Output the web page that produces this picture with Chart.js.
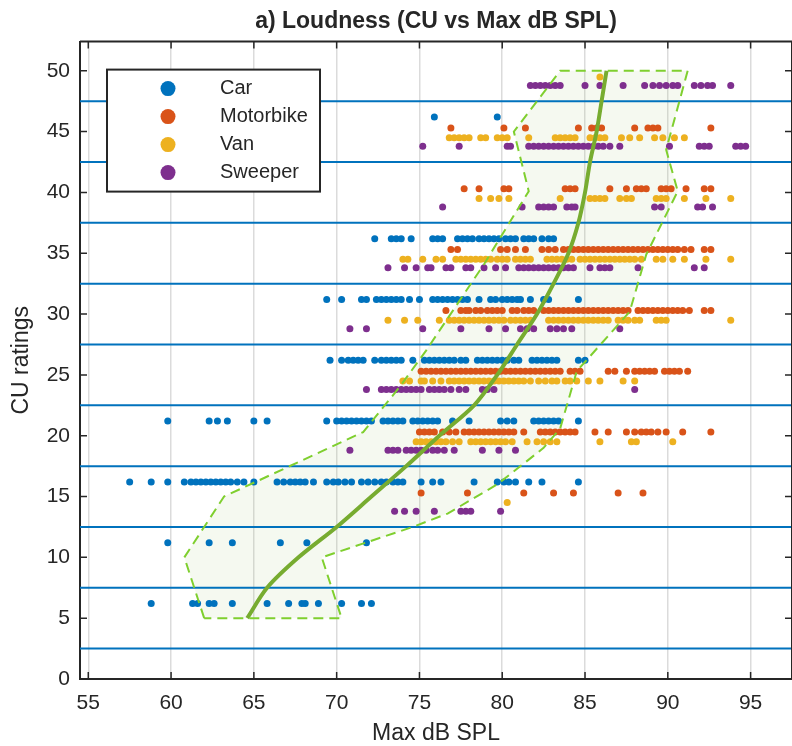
<!DOCTYPE html>
<html>
<head>
<meta charset="utf-8">
<title>Loudness (CU vs Max dB SPL)</title>
<script src="https://cdn.jsdelivr.net/npm/chart.js@4.4.1/dist/chart.umd.min.js"></script>
<style>
  html, body { margin: 0; padding: 0; background: #fff; overflow: hidden; }
  canvas { display: block; }
</style>
</head>
<body>
<canvas id="loudness" width="800" height="746"></canvas>
<script>
const categories = ["Car", "Motorbike", "Van", "Sweeper"];
const colors = ["#0072BD", "#D95319", "#EDB120", "#7E2F8E"];

const xTicks = [55, 60, 65, 70, 75, 80, 85, 90, 95];
const yTicks = [0, 5, 10, 15, 20, 25, 30, 35, 40, 45, 50];
const ratingEdges = [2.5, 7.5, 12.5, 17.5, 22.5, 27.5, 32.5, 37.5, 42.5, 47.5];

// each row: one CU rating level, with the Max dB SPL of every rating on it
const carLevels = [6.2, 11.2, 16.2, 21.2, 26.2, 31.2, 36.2, 46.2];
const carSpl = [
  [58.8, 61.3, 61.6, 62.3, 62.6, 63.7, 65.8, 67.1, 67.9, 68.1, 68.9, 70.3, 71.5, 72.1],
  [59.8, 62.3, 63.7, 66.6, 68.2, 71.8],
  [57.5, 58.8, 59.8, 60.8, 61.2, 61.5, 61.8, 62.1, 62.4, 62.7, 63.0, 63.3, 63.6, 64.0, 64.4, 65.0, 66.4, 66.8, 67.2, 67.5, 67.8, 68.1, 68.6, 69.4, 69.8, 70.1, 70.5, 70.9, 71.5, 71.9, 72.3, 72.7, 73.0, 73.4, 73.7, 74.0, 75.1, 75.8, 76.3, 78.3, 79.7, 80.1, 80.4, 80.8, 81.6, 82.4, 84.6],
  [59.8, 62.3, 62.8, 63.4, 65.0, 65.8, 69.4, 70.0, 70.3, 70.6, 70.9, 71.2, 71.5, 71.8, 72.1, 72.8, 73.1, 73.4, 73.7, 74.0, 74.6, 74.9, 75.2, 75.5, 75.8, 76.1, 77.0, 78.0, 79.9, 80.3, 80.7, 81.9, 82.2, 82.5, 82.8, 83.1, 83.4, 84.6],
  [69.6, 70.3, 70.7, 71.0, 71.3, 71.6, 72.3, 72.7, 73.0, 73.3, 73.6, 73.9, 74.6, 75.3, 75.6, 75.9, 76.2, 76.5, 76.8, 77.1, 77.5, 77.8, 78.5, 78.8, 79.1, 79.4, 79.7, 80.0, 80.3, 80.7, 81.0, 81.8, 82.1, 82.4, 82.7, 83.0, 83.3, 84.6, 85.0],
  [69.4, 70.3, 71.5, 71.8, 72.4, 72.7, 73.0, 73.3, 73.6, 73.9, 74.4, 75.0, 75.8, 76.1, 76.4, 76.7, 77.0, 77.3, 77.6, 77.9, 78.6, 79.3, 79.6, 80.0, 80.3, 80.6, 80.9, 81.1, 81.7, 82.5, 82.8, 84.6],
  [72.3, 73.3, 73.6, 73.9, 74.5, 75.8, 76.1, 76.4, 77.3, 77.6, 77.9, 78.2, 78.6, 78.9, 79.2, 79.5, 79.8, 80.2, 80.5, 80.8, 81.3, 81.6, 81.9, 82.4, 82.8, 83.1],
  [75.9, 79.7]
];

const motoLevels = [15.3, 20.3, 25.3, 30.3, 35.3, 40.3, 45.3];
const motoSpl = [
  [75.1, 77.9, 81.3, 83.1, 84.3, 87.0, 88.5],
  [75.0, 75.3, 75.6, 75.9, 76.4, 76.8, 77.2, 77.7, 78.0, 78.3, 78.6, 78.9, 79.2, 79.5, 79.8, 80.1, 80.4, 80.7, 81.3, 82.3, 82.6, 82.9, 83.2, 83.5, 83.8, 84.1, 84.4, 85.6, 86.4, 87.5, 88.0, 88.4, 88.7, 89.0, 89.4, 89.9, 90.9, 92.6],
  [75.1, 75.4, 75.7, 76.0, 76.3, 76.6, 76.9, 77.2, 77.5, 77.8, 78.1, 78.4, 78.7, 79.0, 79.3, 79.6, 79.9, 80.2, 80.5, 80.8, 81.1, 81.4, 81.7, 82.0, 82.3, 82.6, 82.9, 83.2, 83.5, 84.1, 84.4, 84.7, 86.4, 86.8, 87.5, 88.0, 88.3, 88.6, 88.9, 89.2, 89.8, 90.1, 90.4, 90.7, 91.2],
  [76.6, 77.5, 77.8, 78.0, 78.4, 78.7, 79.1, 79.4, 79.7, 80.0, 80.6, 80.9, 81.3, 81.6, 81.9, 82.5, 82.8, 83.1, 83.4, 83.7, 84.0, 84.3, 84.6, 84.9, 85.2, 85.5, 85.8, 86.1, 86.4, 86.7, 87.0, 87.3, 87.6, 88.2, 88.5, 88.8, 89.1, 89.4, 89.7, 90.0, 90.3, 90.6, 90.9, 91.3, 92.2, 92.6],
  [76.9, 77.3, 79.9, 80.3, 80.8, 81.4, 82.4, 82.8, 83.2, 83.7, 84.0, 84.3, 84.6, 84.9, 85.2, 85.5, 85.8, 86.1, 86.4, 86.7, 87.0, 87.3, 87.6, 87.9, 88.2, 88.5, 88.8, 89.1, 89.4, 89.7, 90.0, 90.3, 90.6, 91.0, 91.4, 92.2, 92.6],
  [77.7, 78.6, 80.1, 80.4, 83.8, 84.1, 84.4, 86.5, 87.5, 88.1, 88.4, 88.7, 89.6, 89.9, 90.2, 91.1, 92.2, 92.6],
  [76.9, 80.1, 81.4, 84.6, 85.4, 85.7, 86.0, 88.0, 88.8, 89.1, 89.4, 92.6]
];

const vanLevels = [14.5, 19.5, 24.5, 29.5, 34.5, 39.5, 44.5, 49.5];
const vanSpl = [
  [80.3],
  [74.8, 75.1, 75.4, 75.7, 76.0, 76.3, 76.6, 77.0, 77.4, 78.1, 78.4, 78.7, 79.0, 79.3, 79.6, 79.9, 80.2, 80.6, 81.5, 82.1, 82.5, 82.9, 83.3, 85.9, 87.8, 88.1, 90.3],
  [74.0, 74.4, 75.1, 75.3, 75.8, 76.3, 76.8, 77.1, 77.4, 77.7, 78.0, 78.3, 78.6, 78.9, 79.2, 79.5, 79.8, 80.1, 80.4, 80.7, 81.0, 81.3, 81.7, 82.2, 82.6, 83.0, 83.3, 83.8, 84.1, 84.5, 85.2, 85.9, 87.3, 88.0],
  [73.1, 74.1, 74.9, 76.2, 76.8, 77.1, 77.4, 77.7, 78.0, 78.3, 78.6, 78.9, 79.2, 79.5, 79.8, 80.1, 80.5, 80.8, 81.1, 81.4, 81.7, 82.8, 83.1, 83.4, 83.7, 84.0, 84.3, 84.6, 84.9, 85.2, 85.5, 85.8, 86.1, 86.4, 87.0, 87.3, 87.6, 88.0, 88.3, 89.3, 89.6, 89.9, 93.8],
  [74.0, 74.3, 75.2, 76.0, 76.4, 77.2, 77.5, 77.8, 78.1, 78.4, 78.7, 79.0, 79.3, 79.7, 80.0, 80.3, 80.8, 81.1, 81.4, 81.7, 82.7, 83.0, 83.3, 83.6, 83.9, 84.2, 84.7, 85.0, 85.3, 85.6, 85.9, 86.2, 86.5, 86.8, 87.1, 87.4, 87.7, 88.0, 88.4, 89.3, 89.7, 90.3, 91.0, 92.3, 93.8],
  [78.6, 79.3, 79.8, 80.4, 83.5, 85.3, 85.6, 85.9, 86.2, 87.1, 87.5, 87.8, 89.3, 89.6, 89.9, 91.0, 92.3, 93.8],
  [76.8, 77.1, 77.4, 77.7, 78.0, 78.7, 79.0, 79.7, 80.0, 80.3, 81.6, 83.2, 83.5, 83.8, 84.1, 84.4, 85.3, 85.6, 85.9, 86.2, 87.2, 87.7, 88.3, 89.2, 89.7, 90.4, 91.0],
  [85.9]
];

const sweepLevels = [13.8, 18.8, 23.8, 28.8, 33.8, 38.8, 43.8, 48.8];
const sweepSpl = [
  [73.5, 74.1, 74.8, 75.9, 77.5, 77.8, 78.1, 79.9],
  [70.8, 73.1, 73.4, 73.7, 74.2, 74.5, 74.8, 75.1, 75.4, 75.8, 76.1, 76.5, 77.1, 78.8, 79.8, 80.8],
  [71.8, 72.7, 73.0, 73.3, 73.6, 73.9, 74.2, 74.5, 74.8, 75.1, 75.6, 75.9, 76.2, 76.5, 76.9, 77.4, 77.8, 78.8, 79.1, 79.5, 88.0],
  [70.8, 71.8, 75.2, 77.5, 79.2, 80.2, 81.1, 81.5, 81.9, 82.9, 83.3, 83.7, 84.2, 87.1],
  [73.1, 74.1, 74.8, 75.5, 75.7, 76.6, 76.9, 77.8, 78.1, 78.9, 79.6, 80.2, 81.0, 81.3, 81.6, 81.9, 82.2, 82.5, 82.8, 83.1, 83.4, 83.7, 84.0, 84.3, 85.3, 85.9, 86.2, 86.5, 88.2, 91.6, 92.2],
  [76.4, 81.2, 82.2, 82.5, 82.8, 83.1, 83.9, 84.2, 84.4, 89.2, 89.6, 91.8, 92.1, 92.7],
  [75.2, 77.4, 80.3, 80.5, 81.6, 81.9, 82.2, 82.5, 82.8, 83.1, 83.4, 83.7, 84.0, 84.3, 84.6, 84.9, 85.2, 85.5, 85.8, 86.1, 86.5, 87.1, 90.1, 91.9, 92.2, 92.5, 94.1, 94.4, 94.7],
  [81.7, 82.0, 82.3, 82.6, 82.9, 83.2, 83.5, 85.0, 85.9, 87.3, 88.6, 89.1, 89.5, 89.9, 90.3, 90.6, 91.6, 92.0, 92.4, 92.7, 93.8]
];

// fitted loudness curve
const fitCu = [5, 7.5, 10, 12.5, 15, 17.5, 20, 22.5, 25, 27.5, 30, 32.5, 35, 37.5, 40, 42.5, 45, 47.5, 50];
const fitSpl = [64.6, 65.8, 67.7, 70.0, 72.1, 74.2, 76.2, 78.3, 79.7, 80.9, 82.1, 83.1, 84.0, 84.6, 85.0, 85.3, 85.7, 86.0, 86.3];

// outline of the spread around the fit (closed)
const bandSpl = [62.0, 60.8, 63.2, 71.6, 73.8, 75.4, 78.9, 81.6, 80.7, 83.5, 91.2, 89.9, 90.6, 88.7, 87.7, 84.5, 83.5, 82.5, 79.7, 76.7, 74.6, 69.1, 70.3, 62.0];
const bandCu = [5.0, 10.0, 15.0, 20.3, 24.0, 27.0, 34.1, 40.1, 45.0, 50.0, 50.0, 43.5, 40.1, 34.9, 30.2, 25.3, 20.6, 19.0, 16.0, 13.6, 12.5, 10.0, 5.0, 5.0];

const font = "'Liberation Sans', Arial, Helvetica, sans-serif";
const ink = "#262626";

function toPoints(levels, spl) {
  return levels.flatMap((cu, i) => spl[i].map(x => ({ x, y: cu })));
}

const groups = [
  toPoints(carLevels, carSpl),
  toPoints(motoLevels, motoSpl),
  toPoints(vanLevels, vanSpl),
  toPoints(sweepLevels, sweepSpl)
];

const scatterSets = categories.map((name, i) => ({
  label: name,
  data: groups[i],
  backgroundColor: colors[i],
  borderWidth: 0,
  pointRadius: 3.5,
  order: 2
}));

// horizontal category boundaries
const ratingLines = {
  id: "ratingLines",
  beforeDatasetsDraw(chart) {
    const { ctx, chartArea: a, scales: { y } } = chart;
    ctx.save();
    ctx.strokeStyle = "#0072BD";
    ctx.lineWidth = 2;
    ratingEdges.forEach(v => {
      const py = y.getPixelForValue(v);
      ctx.beginPath();
      ctx.moveTo(a.left, py);
      ctx.lineTo(a.right, py);
      ctx.stroke();
    });
    ctx.restore();
  }
};

// dashed outline of the band, stroked over the points
const bandOutline = {
  id: "bandOutline",
  afterDatasetsDraw(chart) {
    const { ctx, scales: { x, y } } = chart;
    ctx.save();
    ctx.strokeStyle = "#7fcf2f";
    ctx.lineWidth = 2;
    ctx.setLineDash([10, 6]);
    ctx.beginPath();
    bandSpl.forEach((v, i) => {
      const px = x.getPixelForValue(v), py = y.getPixelForValue(bandCu[i]);
      if (i === 0) ctx.moveTo(px, py); else ctx.lineTo(px, py);
    });
    ctx.stroke();
    ctx.restore();
  }
};

// box outline and inward tick marks
const axisFrame = {
  id: "axisFrame",
  afterDatasetsDraw(chart) {
    const { ctx, chartArea: a, scales: { x, y } } = chart;
    const len = 7;
    ctx.save();
    ctx.strokeStyle = ink;
    ctx.lineWidth = 2;
    ctx.beginPath();
    ctx.moveTo(a.left, a.top);
    ctx.lineTo(a.right, a.top);
    ctx.lineTo(a.right, a.bottom);
    ctx.stroke();
    ctx.lineWidth = 1.5;
    ctx.beginPath();
    xTicks.forEach(v => {
      const px = x.getPixelForValue(v);
      ctx.moveTo(px, a.bottom);
      ctx.lineTo(px, a.bottom - len);
      ctx.moveTo(px, a.top);
      ctx.lineTo(px, a.top + len);
    });
    yTicks.forEach(v => {
      const py = y.getPixelForValue(v);
      ctx.moveTo(a.left, py);
      ctx.lineTo(a.left + len, py);
      ctx.moveTo(a.right, py);
      ctx.lineTo(a.right - len, py);
    });
    ctx.stroke();
    ctx.restore();
  }
};

// legend box in the upper left of the axes
const boxLegend = {
  id: "boxLegend",
  afterDraw(chart) {
    const { ctx, chartArea: a } = chart;
    const left = a.left + 27, top = a.top + 28, w = 213, h = 122;
    ctx.save();
    ctx.fillStyle = "#fff";
    ctx.fillRect(left, top, w, h);
    ctx.strokeStyle = ink;
    ctx.lineWidth = 2;
    ctx.strokeRect(left, top, w, h);
    ctx.font = "20px " + font;
    ctx.textBaseline = "middle";
    categories.forEach((name, i) => {
      const cy = top + 19 + i * 28;
      ctx.fillStyle = colors[i];
      ctx.beginPath();
      ctx.arc(left + 61, cy, 7.5, 0, Math.PI * 2);
      ctx.fill();
      ctx.fillStyle = ink;
      ctx.fillText(name, left + 113, cy);
    });
    ctx.restore();
  }
};

new Chart(document.getElementById("loudness"), {
  type: "scatter",
  data: {
    datasets: [
      {
        type: "line",
        label: "fit",
        data: fitSpl.map((x, i) => ({ x, y: fitCu[i] })),
        borderColor: "#77AC30",
        borderWidth: 4,
        pointRadius: 0,
        tension: 0.3,
        fill: false,
        order: 0
      },
      {
        type: "line",
        label: "band",
        data: bandSpl.map((x, i) => ({ x, y: bandCu[i] })),
        borderWidth: 0,
        backgroundColor: "rgba(119, 172, 48, 0.07)",
        fill: "shape",
        pointRadius: 0,
        tension: 0,
        order: 1
      },
      ...scatterSets
    ]
  },
  options: {
    responsive: false,
    animation: false,
    events: [],
    layout: { padding: { left: 0, right: 8, top: 0, bottom: 0 } },
    plugins: {
      legend: { display: false },
      tooltip: { enabled: false },
      filler: { drawTime: "beforeDatasetsDraw" },
      title: {
        display: true,
        text: "a) Loudness (CU vs Max dB SPL)",
        fullSize: false,
        color: ink,
        font: { family: font, size: 23, weight: "bold", lineHeight: 1.2 },
        padding: { top: 8, bottom: 6 }
      }
    },
    scales: {
      x: {
        type: "linear",
        min: 54.5,
        max: 97.5,
        afterBuildTicks: s => { s.ticks = xTicks.map(value => ({ value })); },
        afterFit: s => { s.height = 67; },
        grid: { color: "rgba(0, 0, 0, 0.14)", lineWidth: 1.5, drawTicks: false },
        border: { color: ink, width: 2 },
        ticks: { color: ink, font: { family: font, size: 21 }, padding: 12, maxRotation: 0, autoSkip: false },
        title: {
          display: true,
          text: "Max dB SPL",
          color: ink,
          font: { family: font, size: 23, lineHeight: 1.1 },
          padding: { top: 0, bottom: 0 }
        }
      },
      y: {
        type: "linear",
        min: 0,
        max: 52.4,
        afterBuildTicks: s => { s.ticks = yTicks.map(value => ({ value })); },
        afterFit: s => { s.width = 80; },
        grid: { color: "rgba(0, 0, 0, 0)", drawTicks: false },
        border: { color: ink, width: 2 },
        ticks: { color: ink, font: { family: font, size: 21 }, padding: 10 },
        title: {
          display: true,
          text: "CU ratings",
          color: ink,
          font: { family: font, size: 23, lineHeight: 1.2 },
          padding: { top: 8, bottom: 8 }
        }
      }
    }
  },
  plugins: [ratingLines, bandOutline, axisFrame, boxLegend]
});
</script>
</body>
</html>
